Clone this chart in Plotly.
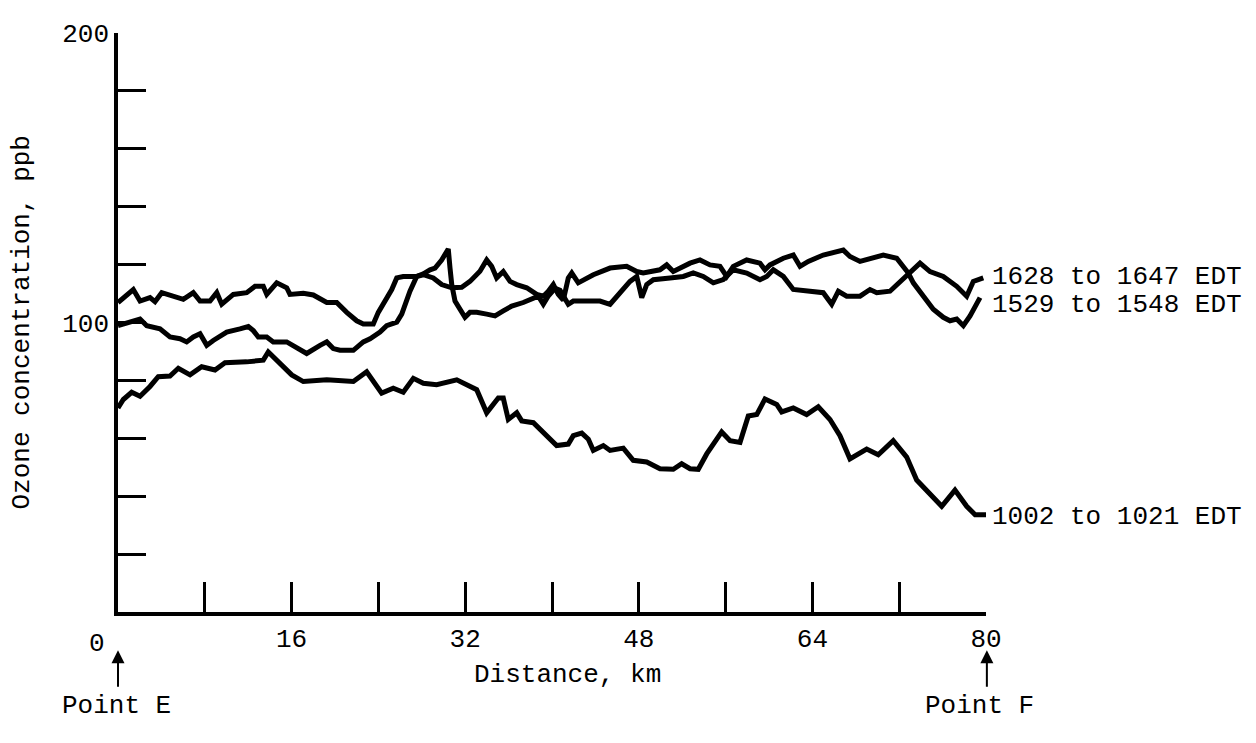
import plotly.graph_objects as go

# ---- Data (distance in km, ozone in ppb) ----
dist_1628 = [0.0, 0.65, 1.26, 2.03, 2.65, 3.87, 4.79, 5.71, 6.33, 6.94, 7.56, 8.18, 8.78, 10.02, 11.24, 12.01,
             12.47, 12.93, 13.71, 14.31, 15.55, 16.47, 17.39, 18.62, 19.24, 19.84, 20.46, 21.69, 22.61, 23.23,
             24.15, 24.76, 25.69, 26.15, 26.91, 27.53,
             28.14, 28.76, 29.22, 29.83, 30.44, 30.6, 30.76, 31.06, 31.68, 31.98, 32.44, 33.06, 33.98, 34.75,
             35.51, 36.29, 37.35, 38.13, 38.74, 39.20, 39.63, 40.28, 40.74, 41.5, 41.96, 43.2, 44.42, 45.35,
             46.27, 47.19, 47.81, 48.27, 48.73, 49.34, 50.88, 52.10, 53.02, 53.94, 54.87, 55.79, 56.71, 57.94,
             59.17, 59.79, 60.4, 61.32, 62.24, 63.47, 65.0, 65.78, 66.39, 67.16, 68.39, 69.31, 69.93, 71.15,
             72.07, 72.84, 73.92, 74.84, 76.06, 77.30, 78.22, 78.83, 79.75]
ozone_1628 = [98.9, 99.5, 100.1, 101.2, 98.9, 97.8, 95.0, 94.4, 93.3, 95.0, 96.1, 92.1, 93.8, 96.7, 97.8, 98.6,
              97.2, 95.0, 95.0, 93.3, 93.3, 91.5, 89.3, 92.1, 93.3, 91.0, 90.4, 90.4, 93.3, 94.4,
              96.7, 98.9, 100.1, 102.9, 110.8, 115.9,
              116.8, 118.2, 118.8, 121.6, 125.4, 118.8, 113.1, 107.4, 103.5, 101.8, 103.5, 103.5, 102.9, 102.3,
              104.0, 105.7, 106.9, 108.0, 109.1, 106.3, 109.0, 111.8, 111.1, 106.3, 107.4, 107.4, 107.4, 106.3,
              110.3, 114.2, 115.9, 108.6, 113.1, 114.8, 115.4, 115.9, 117.1, 115.9, 113.7, 114.8, 118.2, 117.1,
              114.8, 115.9, 118.2, 115.9, 111.4, 110.8, 110.3, 106.3, 110.8, 109.1, 109.1, 111.4, 110.3, 110.8,
              114.2, 117.1, 120.5, 117.6, 115.9, 112.5, 109.1, 114.2, 115.4]

dist_1529 = [0.0, 1.41, 2.03, 2.95, 3.41, 4.03, 6.02, 6.94, 7.56, 8.48, 9.10, 9.56, 10.63, 11.86, 12.63, 13.39,
             13.71, 14.63, 15.55, 15.85, 17.08, 18.0, 19.24, 20.16, 21.08, 22.0, 22.61, 23.53, 23.99, 24.61,
             25.23, 25.69, 26.29, 27.07, 27.53,
             28.14, 29.06, 29.83, 30.76, 31.68, 32.44, 33.36, 33.98, 34.44, 34.9, 35.51, 36.13, 36.75, 37.67,
             38.59, 39.2, 39.66, 40.12, 40.58, 41.04, 41.5, 41.82, 42.42, 43.81, 45.35, 46.88, 47.81, 48.41,
             49.95, 50.57, 51.18, 51.8, 52.72, 53.64, 54.56, 55.48, 56.1, 56.71, 57.94,
             59.17, 59.63, 60.09, 61.32, 62.24, 62.86, 63.62, 65.0, 66.85, 67.46, 68.39, 69.31, 70.53, 71.77,
             72.38, 72.84, 73.3, 74.22, 75.14, 76.06, 76.68, 77.3, 77.91, 78.53, 79.45]
ozone_1529 = [106.9, 111.4, 107.4, 108.6, 107.2, 110.3, 108.0, 110.3, 107.4, 107.4, 110.3, 106.3, 109.7, 110.3,
              112.5, 112.5, 109.7, 113.7, 112.0, 109.7, 110.1, 109.5, 106.9, 106.9, 103.5, 100.6, 99.5, 99.5,
              103.5, 107.4, 111.4, 115.4, 115.9, 115.9, 115.9,
              116.5, 115.4, 113.1, 112.0, 112.2, 114.2, 117.7, 121.6, 119.4, 115.4, 117.6, 114.2, 113.1, 112.0,
              109.7, 109.1, 110.8, 113.1, 109.7, 107.7, 115.4, 117.1, 113.7, 116.5, 118.8, 119.4, 117.6, 117.1,
              118.2, 119.9, 117.6, 118.8, 120.5, 121.6, 119.9, 119.4, 115.9, 119.4, 121.6,
              120.5, 118.2, 119.9, 122.2, 123.3, 119.4, 121.1, 123.3, 125.0, 122.8, 121.1, 122.2, 123.3, 122.2,
              119.4, 117.1, 113.7, 109.1, 104.6, 101.8, 100.6, 101.2, 98.9, 102.3, 108.6]

dist_1002 = [0.0, 0.49, 1.26, 2.03, 2.95, 3.71, 4.79, 5.56, 6.64, 7.71, 8.94, 9.86, 11.86, 13.39, 13.85, 14.93,
             16.01, 17.08, 19.24, 21.69, 22.92, 24.3, 25.37, 26.29, 27.22, 28.14, 29.37, 31.22, 33.06, 33.98,
             35.05, 35.51, 35.97, 36.75, 37.21, 38.28, 39.35, 40.43, 41.5, 41.96, 42.74, 43.35, 43.81, 44.73,
             45.35, 46.57, 47.49, 48.73, 49.95, 51.18, 51.95, 52.72, 53.48, 54.26, 55.64, 56.41, 57.33, 58.09,
             58.87, 59.63, 60.71, 61.17, 62.24, 63.47, 64.54, 65.62, 66.54, 67.46, 69.0, 70.07, 71.45, 72.69,
             73.61, 75.14, 75.92, 77.14, 78.22, 79.0, 80.0]
ozone_1002 = [70.5, 73.4, 75.9, 74.5, 77.9, 81.3, 81.5, 84.2, 81.9, 84.7, 83.6, 86.1, 86.4, 87.0, 89.8, 85.9,
              81.9, 79.6, 80.2, 79.6, 83.0, 75.6, 77.3, 75.9, 80.7, 79.0, 78.5, 80.2, 76.8, 68.8,
              73.9, 73.9, 66.5, 68.8, 66.0, 65.4, 61.4, 57.5, 58.0, 60.9, 61.8, 59.7, 55.8, 57.5,
              55.8, 56.6, 52.4, 51.8, 49.5, 49.3, 51.2, 49.5, 49.3, 54.6, 62.2, 59.2, 58.6, 67.7,
              68.2, 73.6, 71.7, 69.1, 70.5, 68.2, 70.9, 66.5, 60.9, 52.9, 56.3, 54.3, 59.2, 53.5,
              45.6, 39.9, 36.5, 42.1, 36.5, 33.6, 33.6]

series_labels = ["1628 to 1647 EDT", "1529 to 1548 EDT", "1002 to 1021 EDT"]
x_tickvals = [0, 8, 16, 24, 32, 40, 48, 56, 64, 72, 80]
x_ticktext = ["", "", "16", "", "32", "", "48", "", "64", "", "80"]
y_tickvals = [0, 20, 40, 60, 80, 100, 120, 140, 160, 180, 200]
y_ticktext = ["", "", "", "", "", "100", "", "", "", "", "200"]
origin_label = "0"

FONT = "Liberation Mono, Courier New, monospace"
FS = 26

fig = go.Figure()
all_series = [(dist_1628, ozone_1628), (dist_1529, ozone_1529), (dist_1002, ozone_1002)]
for (xs, ys), name in zip(all_series, series_labels):
    fig.add_trace(go.Scatter(x=xs, y=ys, mode="lines", name=name,
                             line=dict(color="black", width=5),
                             showlegend=False, hoverinfo="skip"))

label_yshift = [1, -7, -2]
annotations = []
for (xs, ys), name, ysh in zip(all_series, series_labels, label_yshift):
    annotations.append(dict(x=80, y=ys[-1], xref="x", yref="y", text=name, showarrow=False,
                            xanchor="left", yanchor="middle", xshift=4, yshift=ysh,
                            font=dict(family=FONT, size=FS, color="black")))

# shared origin label
annotations.append(dict(x=-0.0242, y=-0.056, xref="paper", yref="paper", text=origin_label,
                        showarrow=False, xanchor="center", yanchor="middle",
                        font=dict(family=FONT, size=FS, color="black")))
# axis titles
annotations.append(dict(x=-0.1106, y=0.50, xref="paper", yref="paper", text="Ozone concentration, ppb",
                        textangle=-90, showarrow=False, xanchor="center", yanchor="middle",
                        font=dict(family=FONT, size=FS, color="black")))
annotations.append(dict(x=0.518, y=-0.109, xref="paper", yref="paper", text="Distance, km",
                        showarrow=False, xanchor="center", yanchor="middle",
                        font=dict(family=FONT, size=FS, color="black")))
# Point markers
annotations.append(dict(x=-0.002, y=-0.162, xref="paper", yref="paper", text="Point E",
                        showarrow=False, xanchor="center", yanchor="middle",
                        font=dict(family=FONT, size=FS, color="black")))
annotations.append(dict(x=0.993, y=-0.162, xref="paper", yref="paper", text="Point F",
                        showarrow=False, xanchor="center", yanchor="middle",
                        font=dict(family=FONT, size=FS, color="black")))
for xp in [0.0, 1.001]:
    annotations.append(dict(x=xp, y=-0.066, xref="paper", yref="paper", text="", showarrow=True,
                            ax=0, ay=38, arrowhead=2, arrowsize=1.3, arrowwidth=2, arrowcolor="black"))

axis_common = dict(showline=True, linecolor="black", linewidth=3.5, ticks="inside", tickcolor="black",
                   tickwidth=2.5, showgrid=False, zeroline=False,
                   tickfont=dict(family=FONT, size=FS, color="black"))

# page body has an 8px margin; figure sized so the plot area lands where the reference has it
fig.update_layout(
    width=1240, height=727,
    margin=dict(l=110, r=262, t=17, b=123),
    paper_bgcolor="white", plot_bgcolor="white",
    xaxis=dict(range=[0, 80], tickvals=x_tickvals, ticktext=x_ticktext, ticklen=30, **axis_common),
    yaxis=dict(range=[0, 200], tickvals=y_tickvals, ticktext=y_ticktext, ticklen=28, **axis_common),
    annotations=annotations,
)

fig.write_html("out.html")
